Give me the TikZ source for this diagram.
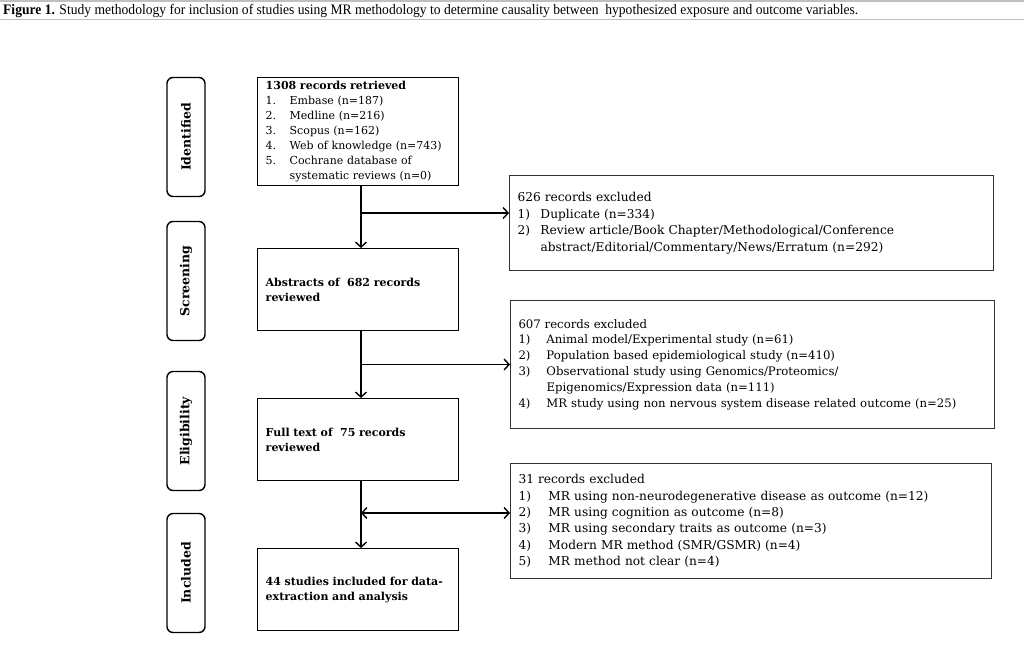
\documentclass[tikz,border=0pt]{standalone}
\usepackage{fontspec}
\usepackage{graphicx}
\setmainfont{DejaVu Serif}
\newfontfamily\capfont{Liberation Serif}
\usetikzlibrary{arrows.meta,calc}
\tikzset{
  mainbox/.style={draw=black, line width=1.4pt, rectangle, inner xsep=8pt, inner ysep=0pt, align=left, anchor=north west, font=\bfseries\fontsize{11}{15}\selectfont},
  listbox/.style={draw=black!80, line width=1pt, rectangle, inner xsep=8pt, inner ysep=0pt, align=left, anchor=north west},
  stagebox/.style={draw=black, line width=1.4pt, rounded corners=6pt, rectangle, rotate=90, minimum width=119pt, minimum height=38pt, inner sep=0pt, font=\bfseries\fontsize{12.5}{14}\selectfont},
  flow/.style={line width=1.4pt, -{Straight Barb[length=5pt,width=11pt]}},
  flowboth/.style={line width=1.4pt, {Straight Barb[length=5pt,width=11pt]}-{Straight Barb[length=5pt,width=11pt]}},
  hdr/.style={draw=black!25, line width=1.2pt}
}
\newcommand{\itm}[2]{\makebox[#1][l]{#2}}
\begin{document}
\begin{tikzpicture}[x=1pt,y=-1pt]
\useasboundingbox (0,0) rectangle (1024,662);
% header
\coordinate (hl) at (0,1);
\coordinate (hr) at (1024,1);
\coordinate (hl2) at (0,19.5);
\coordinate (hr2) at (1024,19.5);
\draw[hdr] (hl) -- (hr);
\draw[hdr] (hl2) -- (hr2);
\node[anchor=west, inner sep=0pt] (cap) at (3,10.5) {\resizebox{855pt}{\height}{\capfont\fontsize{14.5}{16}\selectfont\textbf{Figure 1.} Study methodology for inclusion of studies using MR methodology to determine causality between\ \ hypothesized exposure and outcome variables.}};

% stage labels
\node[stagebox] (s1) at (186,137) {Identified};
\node[stagebox] (s2) at (186,281) {Screening};
\node[stagebox] (s3) at (186,431) {Eligibility};
\node[stagebox] (s4) at (186,573) {Included};

% main boxes
\node[mainbox, text width=185pt, minimum height=108pt] (b1) at (257,77) {%
1308 records retrieved\\
\mdseries\itm{24pt}{1.}Embase (n=187)\\
\itm{24pt}{2.}Medline (n=216)\\
\itm{24pt}{3.}Scopus (n=162)\\
\itm{24pt}{4.}Web of knowledge (n=743)\\
\itm{24pt}{5.}Cochrane database of\\
\hspace*{24pt}systematic reviews (n=0)};
\node[mainbox, text width=185pt, minimum height=82pt] (b2) at (257,248) {Abstracts of\ \ 682 records\\reviewed};
\node[mainbox, text width=185pt, minimum height=82pt] (b3) at (257,398) {Full text of\ \ 75 records\\reviewed};
\node[mainbox, text width=185pt, minimum height=82pt] (b4) at (257,548) {44 studies included for data-\\extraction and analysis};

% exclusion boxes
\node[listbox, text width=468pt, minimum height=95pt, font=\fontsize{12.2}{16.5}\selectfont] (e1) at (509,175) {%
626 records excluded\\
\itm{23pt}{1)}Duplicate (n=334)\\
\itm{23pt}{2)}Review article/Book Chapter/Methodological/Conference\\
\hspace*{23pt}abstract/Editorial/Commentary/News/Erratum (n=292)};
\node[listbox, text width=468pt, minimum height=128pt, font=\fontsize{11.7}{15.8}\selectfont] (e2) at (510,300) {%
607 records excluded\\
\itm{28pt}{1)}Animal model/Experimental study (n=61)\\
\itm{28pt}{2)}Population based epidemiological study (n=410)\\
\itm{28pt}{3)}Observational study using Genomics/Proteomics/\\
\hspace*{28pt}Epigenomics/Expression data (n=111)\\
\itm{28pt}{4)}MR study using non nervous system disease related outcome (n=25)};
\node[listbox, text width=465pt, minimum height=115pt, font=\fontsize{12.2}{16.4}\selectfont] (e3) at (510,463) {%
31 records excluded\\
\itm{30pt}{1)}MR using non-neurodegenerative disease as outcome (n=12)\\
\itm{30pt}{2)}MR using cognition as outcome (n=8)\\
\itm{30pt}{3)}MR using secondary traits as outcome (n=3)\\
\itm{30pt}{4)}Modern MR method (SMR/GSMR) (n=4)\\
\itm{30pt}{5)}MR method not clear (n=4)};

% connectors
\coordinate (vx) at (361,0);
\coordinate (j1) at (361,213);
\coordinate (j3) at (361,513);
\draw[flow] (b1.south -| vx) -- (b2.north -| vx);
\draw[flow] (b2.south -| vx) -- (b3.north -| vx);
\draw[flow] (b3.south -| vx) -- (b4.north -| vx);
\draw[flow] (j1) -- (j1 -| e1.west);
\draw[flow] (vx |- e2.west) -- (e2.west);
\draw[flowboth] (j3) -- (j3 -| e3.west);
\end{tikzpicture}
\end{document}
